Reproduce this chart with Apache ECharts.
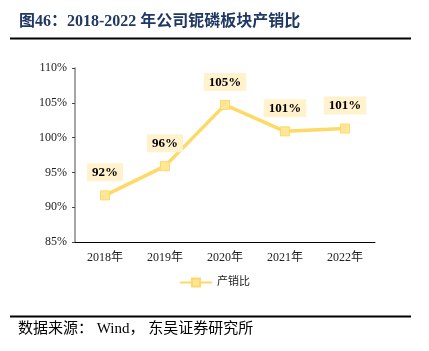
<!DOCTYPE html>
<html>
<head>
<meta charset="utf-8">
<script src="https://cdn.jsdelivr.net/npm/echarts@6/dist/echarts.min.js"></script>
<style>
  html, body { margin: 0; padding: 0; background: #fff; }
  #main { width: 429px; height: 351px; }
</style>
</head>
<body>
<div id="main"></div>
<script>
// 产销比 data
var years = ['2018年', '2019年', '2020年', '2021年', '2022年'];
var ratio = [91.7, 95.9, 104.7, 100.9, 101.3];
var seriesName = '产销比';

var serif = '"Liberation Serif", "Noto Sans CJK SC", serif';

var chart = echarts.init(document.getElementById('main'));
chart.setOption({
    backgroundColor: '#fff',
    animation: false,
    grid: { left: 75, right: 54, top: 68, bottom: 109 },
    graphic: [
        {
            type: 'text', left: 19, top: 14,
            style: { text: '图46：2018-2022 年公司铌磷板块产销比', font: 'bold 16px ' + serif, fill: '#1F3864' }
        },
        { type: 'line', shape: { x1: 10, y1: 38.5, x2: 411, y2: 38.5 }, style: { stroke: '#000', lineWidth: 2 } },
        { type: 'line', shape: { x1: 10, y1: 316.5, x2: 411, y2: 316.5 }, style: { stroke: '#000', lineWidth: 2 } },
        {
            type: 'text', left: 18, top: 322,
            style: { text: '数据来源： Wind， 东吴证券研究所', font: '15px ' + serif, fill: '#000' }
        }
    ],
    legend: {
        bottom: 58, left: 'center',
        itemWidth: 32, itemHeight: 10,
        textStyle: { fontFamily: serif, fontSize: 11, color: '#222' },
        data: [seriesName]
    },
    xAxis: {
        type: 'category',
        data: years,
        axisLine: { lineStyle: { color: '#000', width: 1 } },
        axisTick: { inside: true, length: 3, lineStyle: { color: '#000' } },
        axisLabel: { fontFamily: serif, fontSize: 12, color: '#222', margin: 10 }
    },
    yAxis: {
        type: 'value',
        min: 85, max: 110, interval: 5,
        splitLine: { show: false },
        axisLine: { show: true, lineStyle: { color: '#888', width: 1.5 } },
        axisTick: { show: true, length: 3, lineStyle: { color: '#444' } },
        axisLabel: { fontFamily: serif, fontSize: 12, color: '#222', margin: 8, formatter: '{value}%' }
    },
    series: [{
        name: seriesName,
        type: 'line',
        data: ratio,
        symbol: 'rect',
        symbolSize: 9,
        lineStyle: { color: '#FFD966', width: 3.5 },
        itemStyle: { color: '#FFE699', borderColor: '#FFD966', borderWidth: 1 },
        label: {
            show: true,
            position: 'top',
            distance: 9,
            formatter: function (p) { return Math.round(p.value) + '%'; },
            fontFamily: serif,
            fontWeight: 'bold',
            fontSize: 13,
            color: '#000',
            backgroundColor: '#FFF2CC',
            padding: [3, 5, 2, 5]
        }
    }]
});
</script>
</body>
</html>
